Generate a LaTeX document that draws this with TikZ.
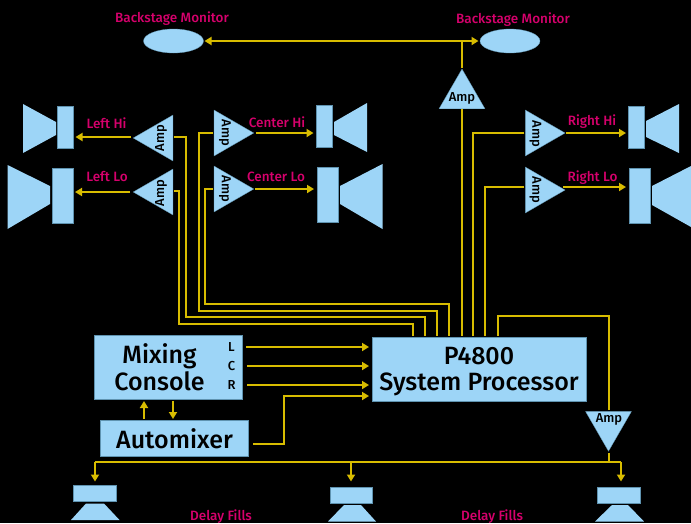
\documentclass[tikz,border=0pt]{standalone}
\usepackage{fontspec}
\setmainfont{Fira Sans}[BoldFont={Fira Sans Medium}]
\usetikzlibrary{shapes.geometric,arrows.meta}
\definecolor{panel}{HTML}{9DD5F7}
\definecolor{panelline}{HTML}{5F93B0}
\definecolor{wirecolor}{HTML}{D8BC00}
\definecolor{tagcolor}{HTML}{D6006C}
\begin{document}
\begin{tikzpicture}[x=1pt,y=-1pt]
  \tikzstyle{wire}=[draw=wirecolor,line width=2pt,line join=miter]
  \tikzstyle{arrow}=[wire,-{Triangle[length=7pt,width=8pt]}]
  \tikzstyle{twoway}=[wire,{Triangle[length=7pt,width=8pt]}-{Triangle[length=7pt,width=8pt]}]
  \tikzstyle{box}=[rectangle,draw=panelline,fill=panel,line width=0.5pt,inner sep=0pt,outer sep=0pt,text=black]
  \tikzstyle{amp}=[regular polygon,regular polygon sides=3,minimum size=53pt,inner sep=0pt,outer sep=0pt,fill=panel,draw=panelline,line width=0.3pt]
  \tikzstyle{cone}=[fill=panel]
  \tikzstyle{monitor}=[ellipse,fill=panel,draw=panelline,line width=0.3pt,minimum width=60pt,minimum height=24pt,inner sep=0pt,outer sep=0pt]
  \tikzstyle{tag}=[text=tagcolor,font=\fontsize{13.5}{15}\selectfont\bfseries,inner sep=0pt]
  \tikzstyle{amptext}=[text=black,font=\fontsize{13}{15}\selectfont\bfseries,inner sep=0pt]
  \tikzstyle{big}=[text=black,font=\fontsize{25}{26.7}\selectfont\bfseries,inner sep=0pt,align=center]
  \useasboundingbox (0,0) rectangle (691,523);
  \fill [black] (0,0) rectangle (691,523);

  % monitors
  \node [monitor] (monleft) at (173.5,41) {};
  \node [monitor] (monright) at (510,41) {};
  \node [tag] (tagmonleft) at (172,19) {Backstage Monitor};
  \node [tag] (tagmonright) at (513,19.5) {Backstage Monitor};

  % amps
  \node [amp] (ampbackstage) at (462,95.5) {};
  \node [amp,shape border rotate=90] (amplefthi) at (159.7,138) {};
  \node [amp,shape border rotate=90] (ampleftlo) at (159.7,192) {};
  \node [amp,shape border rotate=-90] (ampcenterhi) at (227.3,133) {};
  \node [amp,shape border rotate=-90] (ampcenterlo) at (227.3,189) {};
  \node [amp,shape border rotate=-90] (amprighthi) at (538.6,133) {};
  \node [amp,shape border rotate=-90] (amprightlo) at (538.6,190) {};
  \node [amp,shape border rotate=180] (ampdelay) at (608.5,424.7) {};
  \node [amptext] (txtbackstage) at (462,98) {Amp};
  \node [amptext,rotate=90] (txtlefthi) at (161,138) {Amp};
  \node [amptext,rotate=90] (txtleftlo) at (161,193) {Amp};
  \node [amptext,rotate=-90] (txtcenterhi) at (225,133) {Amp};
  \node [amptext,rotate=-90] (txtcenterlo) at (225,189) {Amp};
  \node [amptext,rotate=-90] (txtrighthi) at (535.5,134) {Amp};
  \node [amptext,rotate=-90] (txtrightlo) at (535.5,190) {Amp};
  \node [amptext] (txtdelay) at (609,419) {Amp};

  % speakers
  \node [box,minimum width=16pt,minimum height=42pt] (spklefthi) at (65.5,127.5) {};
  \node [box,minimum width=21pt,minimum height=55pt] (spkleftlo) at (62.5,195.5) {};
  \node [box,minimum width=16pt,minimum height=42pt] (spkcenterhi) at (324.5,126.5) {};
  \node [box,minimum width=21pt,minimum height=55pt] (spkcenterlo) at (327.5,195) {};
  \node [box,minimum width=16pt,minimum height=42pt] (spkrighthi) at (636.5,127) {};
  \node [box,minimum width=21pt,minimum height=55pt] (spkrightlo) at (639.5,195.5) {};
  \node [box,minimum width=42.5pt,minimum height=16pt] (spkdelaya) at (94.5,493.5) {};
  \node [box,minimum width=42.5pt,minimum height=16pt] (spkdelayb) at (351,495.5) {};
  \node [box,minimum width=42.5pt,minimum height=16pt] (spkdelayc) at (618.5,495.5) {};
  \fill [cone] (23,104) -- (56,122) -- (56,135) -- (23,153) -- cycle;
  \fill [cone] (7.5,165) -- (50,186) -- (50,204) -- (7.5,229) -- cycle;
  \fill [cone] (334,122) -- (367,103) -- (367,152) -- (334,135) -- cycle;
  \fill [cone] (340,186) -- (382.5,164) -- (382.5,229) -- (340,204) -- cycle;
  \fill [cone] (646,121) -- (679,104) -- (679,153) -- (646,137) -- cycle;
  \fill [cone] (652,186) -- (691,166) -- (691,227) -- (652,205) -- cycle;
  \fill [cone] (71,520) -- (86,503.5) -- (104,503.5) -- (119.5,520) -- cycle;
  \fill [cone] (328,521.5) -- (344,505) -- (361,505) -- (376,521.5) -- cycle;
  \fill [cone] (595,521.5) -- (612,505) -- (628,505) -- (644,521.5) -- cycle;

  % tags
  \node [tag] (taglefthi) at (106.5,123.5) {Left Hi};
  \node [tag] (tagleftlo) at (107,176.5) {Left Lo};
  \node [tag] (tagcenterhi) at (277,122.5) {Center Hi};
  \node [tag] (tagcenterlo) at (276,176.5) {Center Lo};
  \node [tag] (tagrighthi) at (592,122) {Right Hi};
  \node [tag] (tagrightlo) at (592.5,177.5) {Right Lo};
  \node [tag] (tagdelaya) at (221,517) {Delay Fills};
  \node [tag] (tagdelayb) at (492,517) {Delay Fills};

  % console and processor
  \node [box,minimum width=147.5pt,minimum height=64pt] (console) at (168.25,367.5) {};
  \node [big] (txtconsole) at (159.5,367) {Mixing\\Console};
  \node [amptext] (txtl) at (231.5,347) {L};
  \node [amptext] (txtc) at (231.5,366) {C};
  \node [amptext] (txtr) at (231.5,385) {R};
  \node [box,minimum width=148pt,minimum height=35.5pt,font=\fontsize{25}{28}\selectfont\bfseries] (automixer) at (174.5,438.25) {Automixer};
  \node [box,minimum width=214pt,minimum height=64pt] (processor) at (479,369.5) {};
  \node [big] (txtprocessor) at (479,371.5) {P4800\\System Processor};

  \coordinate (outl) at (246,347);
  \coordinate (outc) at (247,366);
  \coordinate (outr) at (247,385);
  \coordinate (outauto) at (253,444);
  \coordinate (inl) at (369,347);
  \coordinate (inc) at (369,366);
  \coordinate (inr) at (369,385);
  \coordinate (inauto) at (369,396);
  \coordinate (bendauto) at (284,396);
  \coordinate (consoleup) at (144,401);
  \coordinate (autoup) at (144,419);
  \coordinate (consoledown) at (173,401);
  \coordinate (autodown) at (173,419);

  % lcr and automixer
  \draw [arrow] (outl) -- (inl);
  \draw [arrow] (outc) -- (inc);
  \draw [arrow] (outr) -- (inr);
  \draw [arrow] (outauto) -| (bendauto) -- (inauto);
  \draw [arrow] (autoup) -- (consoleup);
  \draw [arrow] (consoledown) -- (autodown);

  % amp inputs
  \coordinate (busleftlo) at (179,324);
  \coordinate (buslefthi) at (186,317);
  \coordinate (buscenterhi) at (199,311);
  \coordinate (buscenterlo) at (205,304);
  \coordinate (busdelay) at (498,316);
  \coordinate (topleftlo) at (413,335.5);
  \coordinate (toplefthi) at (425,335.5);
  \coordinate (topcenterhi) at (437,335.5);
  \coordinate (topcenterlo) at (449,335.5);
  \coordinate (topbackstage) at (462,335.5);
  \coordinate (toprighthi) at (473,335.5);
  \coordinate (toprightlo) at (485,335.5);
  \coordinate (topdelay) at (498,335.5);
  \draw [wire,shorten <=1pt] ([yshift=1pt]ampleftlo.east) -| (busleftlo) -| (topleftlo);
  \draw [wire,shorten <=1pt] ([yshift=1pt]amplefthi.east) -| (buslefthi) -| (toplefthi);
  \draw [wire,shorten <=1pt] (ampcenterhi.west) -| (buscenterhi) -| (topcenterhi);
  \draw [wire,shorten <=1pt] (ampcenterlo.west) -| (buscenterlo) -| (topcenterlo);
  \draw [wire] (topbackstage) -- (ampbackstage.south);
  \draw [wire,shorten <=1pt] (amprighthi.west) -| (toprighthi);
  \draw [wire,shorten <=1pt] ([yshift=3pt]amprightlo.west) -| (toprightlo);
  \draw [wire,shorten >=1pt] (topdelay) |- (busdelay) -| (ampdelay.north -| 609,0);

  % amp outputs
  \draw [twoway,shorten <=1pt,shorten >=1.5pt] (monleft) -- (monright);
  \coordinate (tapmonitor) at (462,41);
  \draw [wire,shorten <=1pt] (ampbackstage.north) -- (tapmonitor);
  \draw [arrow,shorten <=2pt,shorten >=2pt] ([yshift=1pt]amplefthi.west) -- ([yshift=1pt]amplefthi.west -| spklefthi.east);
  \draw [arrow,shorten <=3pt,shorten >=2pt] (ampleftlo.west) -- (ampleftlo.west -| spkleftlo.east);
  \draw [arrow,shorten <=2pt,shorten >=3pt] (ampcenterhi.east) -- (ampcenterhi.east -| spkcenterhi.west);
  \draw [arrow,shorten <=1pt,shorten >=3pt] (ampcenterlo.east) -- (ampcenterlo.east -| spkcenterlo.west);
  \draw [arrow,shorten <=1pt,shorten >=2.5pt] (amprighthi.east) -- (amprighthi.east -| spkrighthi.west);
  \draw [arrow,shorten <=0pt,shorten >=3pt] ([xshift=-2pt,yshift=3pt]amprightlo.east) -- ([yshift=3pt]amprightlo.east -| spkrightlo.west);

  % delay fills
  \coordinate (busdelaya) at (95,462);
  \coordinate (busdelayb) at (351,462);
  \coordinate (busdelayc) at (621,462);
  \coordinate (tapdelay) at (609,462);
  \draw [wire,shorten <=2pt] (ampdelay.south -| tapdelay) -- (tapdelay);
  \draw [wire] (busdelaya) -- (busdelayc);
  \draw [arrow,shorten >=4pt] (busdelaya) -- (busdelaya |- spkdelaya.north);
  \draw [arrow,shorten >=6pt] (busdelayb) -- (spkdelayb.north);
  \draw [arrow,shorten >=6pt] (busdelayc) -- (busdelayc |- spkdelayc.north);
\end{tikzpicture}
\end{document}
